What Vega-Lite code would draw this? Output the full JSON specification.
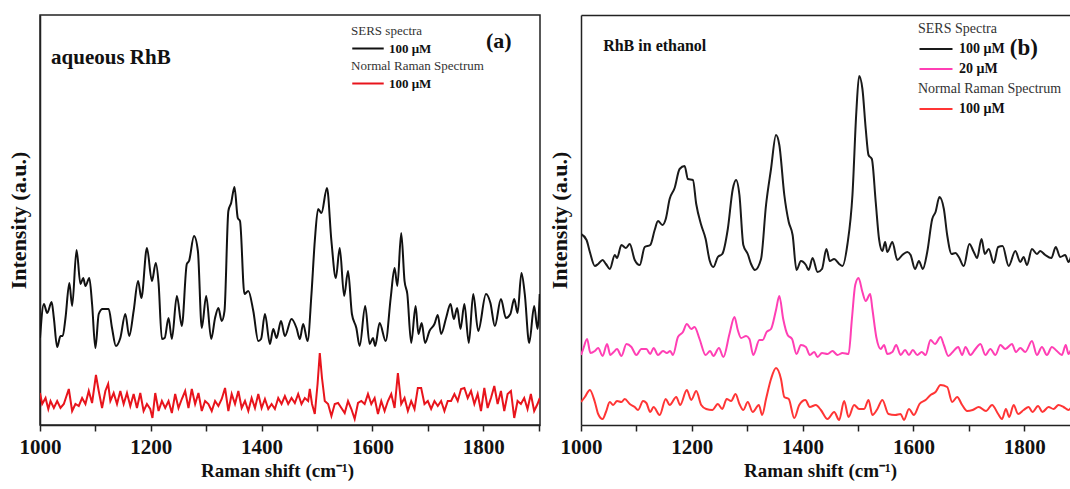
{
"$schema": "https://vega.github.io/schema/vega-lite/v6.json",
"padding": {"left": 6, "top": 14, "right": 0, "bottom": 0},
"background": "white",
"spacing": 7,
"config": {
 "font": "Liberation Serif",
 "view": {"stroke": "#222", "strokeWidth": 1.5},
 "axis": {"grid": false, "domainColor": "#222", "domainWidth": 1.5, "tickColor": "#222", "tickWidth": 1.5, "labelFont": "Liberation Serif", "labelFontWeight": "bold", "labelFontSize": 21, "labelColor": "#111", "titleFont": "Liberation Serif", "titleFontWeight": "bold", "titleFontSize": 21, "titleColor": "#111"},
 "axisY": {"ticks": false, "labels": false, "titlePadding": 10, "titleFontSize": 22},
 "axisX": {"tickSize": 6, "labelPadding": 5, "titlePadding": 4, "titleFontSize": 19, "format": "d", "labelFlush": false, "labelOverlap": false},
 "legend": {"padding": 0, "titleFont": "Liberation Serif", "titleFontWeight": "normal", "titleColor": "#333", "labelFont": "Liberation Serif", "labelFontWeight": "bold", "labelColor": "#111", "symbolStrokeWidth": 2, "symbolType": "M-1,0H5", "titleLimit": 300, "labelLimit": 300}
},
"datasets": {
 "a_sers": [{"shift":1000,"intensity":87},{"shift":1007,"intensity":121},{"shift":1013,"intensity":112},{"shift":1021,"intensity":123},{"shift":1025,"intensity":107},{"shift":1031,"intensity":78},{"shift":1037,"intensity":89},{"shift":1041,"intensity":89},{"shift":1046,"intensity":107},{"shift":1053,"intensity":142},{"shift":1058,"intensity":119},{"shift":1066,"intensity":175},{"shift":1073,"intensity":141},{"shift":1078,"intensity":147},{"shift":1082,"intensity":139},{"shift":1089,"intensity":147},{"shift":1094,"intensity":121},{"shift":1100,"intensity":77},{"shift":1106,"intensity":111},{"shift":1113,"intensity":116},{"shift":1124,"intensity":116},{"shift":1130,"intensity":97},{"shift":1137,"intensity":79},{"shift":1145,"intensity":87},{"shift":1154,"intensity":111},{"shift":1161,"intensity":89},{"shift":1169,"intensity":114},{"shift":1177,"intensity":144},{"shift":1183,"intensity":127},{"shift":1193,"intensity":177},{"shift":1202,"intensity":144},{"shift":1209,"intensity":162},{"shift":1214,"intensity":142},{"shift":1220,"intensity":86},{"shift":1225,"intensity":87},{"shift":1232,"intensity":107},{"shift":1238,"intensity":86},{"shift":1247,"intensity":129},{"shift":1256,"intensity":99},{"shift":1265,"intensity":161},{"shift":1269,"intensity":164},{"shift":1278,"intensity":189},{"shift":1285,"intensity":174},{"shift":1292,"intensity":97},{"shift":1300,"intensity":129},{"shift":1309,"intensity":86},{"shift":1316,"intensity":107},{"shift":1322,"intensity":117},{"shift":1328,"intensity":104},{"shift":1333,"intensity":114},{"shift":1340,"intensity":214},{"shift":1345,"intensity":222},{"shift":1351,"intensity":238},{"shift":1357,"intensity":207},{"shift":1361,"intensity":204},{"shift":1369,"intensity":131},{"shift":1376,"intensity":134},{"shift":1385,"intensity":114},{"shift":1394,"intensity":84},{"shift":1399,"intensity":86},{"shift":1406,"intensity":111},{"shift":1415,"intensity":81},{"shift":1421,"intensity":96},{"shift":1427,"intensity":87},{"shift":1435,"intensity":104},{"shift":1442,"intensity":89},{"shift":1454,"intensity":106},{"shift":1463,"intensity":97},{"shift":1469,"intensity":86},{"shift":1475,"intensity":101},{"shift":1483,"intensity":84},{"shift":1490,"intensity":131},{"shift":1496,"intensity":184},{"shift":1502,"intensity":216},{"shift":1508,"intensity":212},{"shift":1518,"intensity":237},{"shift":1526,"intensity":184},{"shift":1534,"intensity":147},{"shift":1541,"intensity":177},{"shift":1549,"intensity":129},{"shift":1556,"intensity":154},{"shift":1563,"intensity":111},{"shift":1571,"intensity":97},{"shift":1577,"intensity":79},{"shift":1587,"intensity":119},{"shift":1595,"intensity":81},{"shift":1601,"intensity":87},{"shift":1605,"intensity":79},{"shift":1613,"intensity":102},{"shift":1624,"intensity":84},{"shift":1633,"intensity":127},{"shift":1640,"intensity":157},{"shift":1645,"intensity":139},{"shift":1652,"intensity":192},{"shift":1658,"intensity":144},{"shift":1663,"intensity":131},{"shift":1670,"intensity":82},{"shift":1678,"intensity":119},{"shift":1683,"intensity":91},{"shift":1689,"intensity":102},{"shift":1695,"intensity":82},{"shift":1703,"intensity":94},{"shift":1712,"intensity":101},{"shift":1718,"intensity":110},{"shift":1724,"intensity":91},{"shift":1733,"intensity":107},{"shift":1741,"intensity":121},{"shift":1747,"intensity":106},{"shift":1753,"intensity":117},{"shift":1759,"intensity":96},{"shift":1766,"intensity":121},{"shift":1774,"intensity":82},{"shift":1782,"intensity":131},{"shift":1791,"intensity":94},{"shift":1805,"intensity":131},{"shift":1813,"intensity":122},{"shift":1821,"intensity":99},{"shift":1832,"intensity":126},{"shift":1841,"intensity":107},{"shift":1849,"intensity":111},{"shift":1856,"intensity":126},{"shift":1862,"intensity":112},{"shift":1869,"intensity":152},{"shift":1875,"intensity":131},{"shift":1883,"intensity":82},{"shift":1892,"intensity":119},{"shift":1898,"intensity":96},{"shift":1902,"intensity":131}],
 "a_normal": [{"shift":1000,"intensity":32},{"shift":1004,"intensity":21},{"shift":1010,"intensity":27},{"shift":1015,"intensity":16},{"shift":1019,"intensity":24},{"shift":1025,"intensity":17},{"shift":1031,"intensity":24},{"shift":1037,"intensity":17},{"shift":1043,"intensity":21},{"shift":1052,"intensity":36},{"shift":1058,"intensity":14},{"shift":1064,"intensity":21},{"shift":1070,"intensity":19},{"shift":1076,"intensity":27},{"shift":1082,"intensity":21},{"shift":1088,"intensity":34},{"shift":1094,"intensity":22},{"shift":1101,"intensity":50},{"shift":1106,"intensity":34},{"shift":1112,"intensity":17},{"shift":1118,"intensity":34},{"shift":1123,"intensity":41},{"shift":1127,"intensity":24},{"shift":1133,"intensity":32},{"shift":1139,"intensity":21},{"shift":1145,"intensity":34},{"shift":1151,"intensity":21},{"shift":1157,"intensity":32},{"shift":1163,"intensity":19},{"shift":1169,"intensity":31},{"shift":1175,"intensity":17},{"shift":1181,"intensity":32},{"shift":1187,"intensity":14},{"shift":1193,"intensity":21},{"shift":1199,"intensity":16},{"shift":1203,"intensity":7},{"shift":1208,"intensity":32},{"shift":1214,"intensity":14},{"shift":1220,"intensity":24},{"shift":1226,"intensity":17},{"shift":1232,"intensity":24},{"shift":1238,"intensity":12},{"shift":1244,"intensity":31},{"shift":1250,"intensity":17},{"shift":1256,"intensity":26},{"shift":1262,"intensity":34},{"shift":1268,"intensity":17},{"shift":1274,"intensity":36},{"shift":1280,"intensity":21},{"shift":1286,"intensity":32},{"shift":1292,"intensity":14},{"shift":1298,"intensity":24},{"shift":1304,"intensity":21},{"shift":1310,"intensity":14},{"shift":1316,"intensity":24},{"shift":1322,"intensity":19},{"shift":1328,"intensity":26},{"shift":1334,"intensity":37},{"shift":1340,"intensity":14},{"shift":1346,"intensity":31},{"shift":1352,"intensity":21},{"shift":1358,"intensity":34},{"shift":1364,"intensity":17},{"shift":1370,"intensity":24},{"shift":1376,"intensity":14},{"shift":1382,"intensity":27},{"shift":1388,"intensity":17},{"shift":1394,"intensity":31},{"shift":1400,"intensity":17},{"shift":1406,"intensity":26},{"shift":1412,"intensity":16},{"shift":1418,"intensity":21},{"shift":1424,"intensity":16},{"shift":1430,"intensity":27},{"shift":1436,"intensity":21},{"shift":1442,"intensity":29},{"shift":1448,"intensity":21},{"shift":1454,"intensity":27},{"shift":1460,"intensity":22},{"shift":1466,"intensity":31},{"shift":1472,"intensity":21},{"shift":1478,"intensity":27},{"shift":1484,"intensity":24},{"shift":1487,"intensity":36},{"shift":1491,"intensity":21},{"shift":1496,"intensity":11},{"shift":1501,"intensity":41},{"shift":1505,"intensity":72},{"shift":1509,"intensity":47},{"shift":1514,"intensity":24},{"shift":1520,"intensity":21},{"shift":1526,"intensity":9},{"shift":1532,"intensity":21},{"shift":1538,"intensity":22},{"shift":1544,"intensity":17},{"shift":1550,"intensity":12},{"shift":1556,"intensity":24},{"shift":1562,"intensity":16},{"shift":1568,"intensity":6},{"shift":1574,"intensity":22},{"shift":1580,"intensity":24},{"shift":1586,"intensity":21},{"shift":1592,"intensity":31},{"shift":1598,"intensity":21},{"shift":1604,"intensity":27},{"shift":1610,"intensity":11},{"shift":1616,"intensity":24},{"shift":1622,"intensity":14},{"shift":1628,"intensity":24},{"shift":1634,"intensity":31},{"shift":1640,"intensity":17},{"shift":1646,"intensity":52},{"shift":1652,"intensity":21},{"shift":1658,"intensity":27},{"shift":1664,"intensity":14},{"shift":1670,"intensity":24},{"shift":1676,"intensity":16},{"shift":1682,"intensity":37},{"shift":1688,"intensity":37},{"shift":1694,"intensity":21},{"shift":1700,"intensity":24},{"shift":1706,"intensity":16},{"shift":1712,"intensity":24},{"shift":1718,"intensity":19},{"shift":1724,"intensity":24},{"shift":1730,"intensity":14},{"shift":1736,"intensity":24},{"shift":1742,"intensity":24},{"shift":1748,"intensity":31},{"shift":1754,"intensity":24},{"shift":1760,"intensity":36},{"shift":1766,"intensity":37},{"shift":1772,"intensity":27},{"shift":1778,"intensity":34},{"shift":1784,"intensity":21},{"shift":1790,"intensity":31},{"shift":1796,"intensity":14},{"shift":1802,"intensity":37},{"shift":1808,"intensity":17},{"shift":1814,"intensity":27},{"shift":1820,"intensity":39},{"shift":1826,"intensity":21},{"shift":1832,"intensity":34},{"shift":1838,"intensity":14},{"shift":1844,"intensity":31},{"shift":1850,"intensity":34},{"shift":1856,"intensity":7},{"shift":1862,"intensity":24},{"shift":1868,"intensity":21},{"shift":1874,"intensity":27},{"shift":1880,"intensity":16},{"shift":1886,"intensity":31},{"shift":1892,"intensity":14},{"shift":1898,"intensity":21},{"shift":1902,"intensity":27}],
 "b_sers100": [{"shift":1000,"intensity":191},{"shift":1010,"intensity":185},{"shift":1016,"intensity":173},{"shift":1025,"intensity":159},{"shift":1031,"intensity":161},{"shift":1039,"intensity":165},{"shift":1045,"intensity":161},{"shift":1052,"intensity":156},{"shift":1061,"intensity":170},{"shift":1065,"intensity":167},{"shift":1073,"intensity":180},{"shift":1081,"intensity":177},{"shift":1088,"intensity":181},{"shift":1097,"intensity":165},{"shift":1106,"intensity":160},{"shift":1115,"intensity":178},{"shift":1125,"intensity":180},{"shift":1133,"intensity":195},{"shift":1139,"intensity":204},{"shift":1147,"intensity":200},{"shift":1153,"intensity":206},{"shift":1160,"intensity":226},{"shift":1169,"intensity":237},{"shift":1178,"intensity":256},{"shift":1187,"intensity":259},{"shift":1193,"intensity":246},{"shift":1202,"intensity":245},{"shift":1208,"intensity":221},{"shift":1217,"intensity":200},{"shift":1225,"intensity":186},{"shift":1232,"intensity":165},{"shift":1239,"intensity":158},{"shift":1247,"intensity":168},{"shift":1255,"intensity":171},{"shift":1265,"intensity":196},{"shift":1274,"intensity":236},{"shift":1280,"intensity":245},{"shift":1286,"intensity":230},{"shift":1293,"intensity":180},{"shift":1301,"intensity":171},{"shift":1307,"intensity":161},{"shift":1314,"intensity":155},{"shift":1325,"intensity":166},{"shift":1334,"intensity":220},{"shift":1343,"intensity":256},{"shift":1352,"intensity":290},{"shift":1358,"intensity":280},{"shift":1367,"intensity":230},{"shift":1375,"intensity":203},{"shift":1382,"intensity":190},{"shift":1389,"intensity":155},{"shift":1397,"intensity":164},{"shift":1406,"intensity":160},{"shift":1411,"intensity":155},{"shift":1418,"intensity":167},{"shift":1427,"intensity":153},{"shift":1435,"intensity":156},{"shift":1443,"intensity":176},{"shift":1449,"intensity":164},{"shift":1457,"intensity":166},{"shift":1466,"intensity":161},{"shift":1472,"intensity":159},{"shift":1481,"intensity":181},{"shift":1490,"intensity":230},{"shift":1497,"intensity":313},{"shift":1502,"intensity":349},{"shift":1508,"intensity":336},{"shift":1514,"intensity":296},{"shift":1519,"intensity":270},{"shift":1525,"intensity":266},{"shift":1532,"intensity":223},{"shift":1538,"intensity":186},{"shift":1544,"intensity":174},{"shift":1549,"intensity":183},{"shift":1553,"intensity":173},{"shift":1562,"intensity":183},{"shift":1571,"intensity":165},{"shift":1580,"intensity":170},{"shift":1589,"intensity":173},{"shift":1595,"intensity":170},{"shift":1603,"intensity":156},{"shift":1610,"intensity":164},{"shift":1617,"intensity":156},{"shift":1625,"intensity":173},{"shift":1634,"intensity":206},{"shift":1640,"intensity":213},{"shift":1647,"intensity":228},{"shift":1655,"intensity":216},{"shift":1661,"intensity":190},{"shift":1669,"intensity":171},{"shift":1676,"intensity":172},{"shift":1682,"intensity":168},{"shift":1691,"intensity":159},{"shift":1701,"intensity":181},{"shift":1709,"intensity":173},{"shift":1715,"intensity":167},{"shift":1723,"intensity":186},{"shift":1729,"intensity":171},{"shift":1736,"intensity":176},{"shift":1745,"intensity":162},{"shift":1753,"intensity":178},{"shift":1761,"intensity":179},{"shift":1772,"intensity":159},{"shift":1784,"intensity":174},{"shift":1793,"intensity":163},{"shift":1799,"intensity":168},{"shift":1805,"intensity":160},{"shift":1814,"intensity":176},{"shift":1823,"intensity":171},{"shift":1829,"intensity":174},{"shift":1838,"intensity":170},{"shift":1849,"intensity":167},{"shift":1857,"intensity":178},{"shift":1865,"intensity":168},{"shift":1874,"intensity":170},{"shift":1880,"intensity":163},{"shift":1888,"intensity":172},{"shift":1895,"intensity":166}],
 "b_sers20": [{"shift":1000,"intensity":70},{"shift":1004,"intensity":76},{"shift":1011,"intensity":86},{"shift":1017,"intensity":72},{"shift":1025,"intensity":74},{"shift":1031,"intensity":77},{"shift":1039,"intensity":69},{"shift":1047,"intensity":81},{"shift":1053,"intensity":70},{"shift":1059,"intensity":73},{"shift":1065,"intensity":76},{"shift":1073,"intensity":69},{"shift":1082,"intensity":81},{"shift":1091,"intensity":78},{"shift":1100,"intensity":70},{"shift":1109,"intensity":76},{"shift":1118,"intensity":76},{"shift":1125,"intensity":71},{"shift":1131,"intensity":77},{"shift":1139,"intensity":70},{"shift":1148,"intensity":74},{"shift":1155,"intensity":72},{"shift":1161,"intensity":74},{"shift":1166,"intensity":70},{"shift":1175,"intensity":88},{"shift":1184,"intensity":93},{"shift":1191,"intensity":101},{"shift":1199,"intensity":96},{"shift":1205,"intensity":98},{"shift":1214,"intensity":86},{"shift":1225,"intensity":70},{"shift":1233,"intensity":74},{"shift":1239,"intensity":69},{"shift":1249,"intensity":77},{"shift":1257,"intensity":68},{"shift":1268,"intensity":91},{"shift":1277,"intensity":108},{"shift":1283,"intensity":95},{"shift":1289,"intensity":87},{"shift":1298,"intensity":89},{"shift":1304,"intensity":86},{"shift":1311,"intensity":70},{"shift":1322,"intensity":85},{"shift":1328,"intensity":85},{"shift":1335,"intensity":93},{"shift":1343,"intensity":96},{"shift":1352,"intensity":115},{"shift":1358,"intensity":129},{"shift":1365,"intensity":106},{"shift":1373,"intensity":90},{"shift":1381,"intensity":86},{"shift":1389,"intensity":71},{"shift":1397,"intensity":80},{"shift":1406,"intensity":78},{"shift":1413,"intensity":70},{"shift":1421,"intensity":73},{"shift":1427,"intensity":68},{"shift":1435,"intensity":72},{"shift":1445,"intensity":71},{"shift":1454,"intensity":74},{"shift":1463,"intensity":70},{"shift":1472,"intensity":72},{"shift":1483,"intensity":71},{"shift":1489,"intensity":106},{"shift":1495,"intensity":140},{"shift":1501,"intensity":147},{"shift":1508,"intensity":133},{"shift":1514,"intensity":124},{"shift":1522,"intensity":131},{"shift":1526,"intensity":116},{"shift":1533,"intensity":88},{"shift":1541,"intensity":76},{"shift":1547,"intensity":80},{"shift":1553,"intensity":71},{"shift":1562,"intensity":73},{"shift":1569,"intensity":80},{"shift":1577,"intensity":70},{"shift":1585,"intensity":75},{"shift":1592,"intensity":70},{"shift":1599,"intensity":75},{"shift":1607,"intensity":70},{"shift":1615,"intensity":73},{"shift":1622,"intensity":70},{"shift":1631,"intensity":85},{"shift":1639,"intensity":81},{"shift":1649,"intensity":88},{"shift":1655,"intensity":80},{"shift":1663,"intensity":69},{"shift":1671,"intensity":73},{"shift":1681,"intensity":78},{"shift":1688,"intensity":70},{"shift":1694,"intensity":78},{"shift":1703,"intensity":70},{"shift":1712,"intensity":76},{"shift":1721,"intensity":81},{"shift":1730,"intensity":70},{"shift":1739,"intensity":76},{"shift":1748,"intensity":70},{"shift":1757,"intensity":80},{"shift":1766,"intensity":76},{"shift":1778,"intensity":81},{"shift":1785,"intensity":73},{"shift":1793,"intensity":77},{"shift":1802,"intensity":73},{"shift":1814,"intensity":84},{"shift":1823,"intensity":70},{"shift":1832,"intensity":78},{"shift":1841,"intensity":70},{"shift":1850,"intensity":78},{"shift":1859,"intensity":74},{"shift":1868,"intensity":70},{"shift":1875,"intensity":80},{"shift":1880,"intensity":71},{"shift":1888,"intensity":78},{"shift":1895,"intensity":72}],
 "b_normal": [{"shift":1000,"intensity":23},{"shift":1007,"intensity":28},{"shift":1016,"intensity":35},{"shift":1025,"intensity":23},{"shift":1031,"intensity":11},{"shift":1039,"intensity":6},{"shift":1045,"intensity":13},{"shift":1052,"intensity":23},{"shift":1058,"intensity":20},{"shift":1065,"intensity":24},{"shift":1073,"intensity":23},{"shift":1079,"intensity":26},{"shift":1088,"intensity":21},{"shift":1097,"intensity":18},{"shift":1103,"intensity":15},{"shift":1112,"intensity":24},{"shift":1118,"intensity":22},{"shift":1125,"intensity":13},{"shift":1131,"intensity":18},{"shift":1142,"intensity":10},{"shift":1153,"intensity":26},{"shift":1160,"intensity":20},{"shift":1172,"intensity":28},{"shift":1179,"intensity":20},{"shift":1191,"intensity":35},{"shift":1199,"intensity":25},{"shift":1208,"intensity":34},{"shift":1217,"intensity":20},{"shift":1226,"intensity":16},{"shift":1237,"intensity":15},{"shift":1247,"intensity":21},{"shift":1255,"intensity":16},{"shift":1263,"intensity":26},{"shift":1271,"intensity":24},{"shift":1279,"intensity":31},{"shift":1286,"intensity":21},{"shift":1293,"intensity":15},{"shift":1301,"intensity":23},{"shift":1310,"intensity":13},{"shift":1321,"intensity":20},{"shift":1327,"intensity":10},{"shift":1334,"intensity":26},{"shift":1343,"intensity":46},{"shift":1352,"intensity":57},{"shift":1361,"intensity":46},{"shift":1367,"intensity":28},{"shift":1375,"intensity":26},{"shift":1385,"intensity":7},{"shift":1394,"intensity":20},{"shift":1405,"intensity":25},{"shift":1413,"intensity":18},{"shift":1424,"intensity":20},{"shift":1433,"intensity":15},{"shift":1445,"intensity":6},{"shift":1457,"intensity":13},{"shift":1466,"intensity":5},{"shift":1475,"intensity":24},{"shift":1483,"intensity":8},{"shift":1493,"intensity":20},{"shift":1502,"intensity":16},{"shift":1511,"intensity":16},{"shift":1519,"intensity":25},{"shift":1526,"intensity":10},{"shift":1535,"intensity":16},{"shift":1544,"intensity":25},{"shift":1555,"intensity":11},{"shift":1567,"intensity":10},{"shift":1577,"intensity":11},{"shift":1583,"intensity":5},{"shift":1592,"intensity":16},{"shift":1601,"intensity":10},{"shift":1611,"intensity":21},{"shift":1622,"intensity":25},{"shift":1631,"intensity":30},{"shift":1640,"intensity":33},{"shift":1649,"intensity":40},{"shift":1661,"intensity":38},{"shift":1670,"intensity":23},{"shift":1679,"intensity":28},{"shift":1688,"intensity":20},{"shift":1697,"intensity":14},{"shift":1707,"intensity":15},{"shift":1718,"intensity":18},{"shift":1731,"intensity":14},{"shift":1742,"intensity":20},{"shift":1753,"intensity":11},{"shift":1760,"intensity":6},{"shift":1767,"intensity":16},{"shift":1773,"intensity":8},{"shift":1781,"intensity":20},{"shift":1789,"intensity":11},{"shift":1799,"intensity":15},{"shift":1808,"intensity":18},{"shift":1815,"intensity":13},{"shift":1825,"intensity":19},{"shift":1833,"intensity":13},{"shift":1844,"intensity":18},{"shift":1853,"intensity":16},{"shift":1862,"intensity":20},{"shift":1871,"intensity":18},{"shift":1880,"intensity":15},{"shift":1888,"intensity":19},{"shift":1895,"intensity":16}]
},
"hconcat": [
 {
  "width": 500, "height": 410,
  "layer": [
   {"data": {"name": "a_sers"}, "mark": {"type": "line", "strokeWidth": 2, "clip": true, "interpolate": "monotone"},
    "encoding": {
     "x": {"field": "shift", "type": "quantitative", "scale": {"domain": [1000, 1902.5], "nice": false, "zero": false},
           "axis": {"title": "Raman shift (cm⁻¹)", "values": [1000,1100,1200,1300,1400,1500,1600,1700,1800,1900], "labelExpr": "datum.value % 200 === 0 ? datum.label : ''", "titleX": 237, "titleAlign": "center"}},
     "y": {"field": "intensity", "type": "quantitative", "scale": {"domain": [0, 410], "nice": false}, "axis": {"title": "Intensity (a.u.)"}},
     "color": {"datum": "100 μM", "scale": {"range": ["#111111"]},
               "legend": {"title": "SERS spectra", "orient": "none", "legendX": 311, "legendY": 10, "titleFontSize": 13, "labelFontSize": 13, "symbolSize": 110, "labelOffset": 25, "titlePadding": 4}}
    }},
   {"data": {"name": "a_normal"}, "mark": {"type": "line", "strokeWidth": 2, "clip": true},
    "encoding": {
     "x": {"field": "shift", "type": "quantitative"},
     "y": {"field": "intensity", "type": "quantitative"},
     "color": {"datum": "100 μM", "scale": {"range": ["#e8141c"]},
               "legend": {"title": "Normal Raman Spectrum", "orient": "none", "legendX": 311, "legendY": 45, "titleFontSize": 13, "labelFontSize": 13, "symbolSize": 110, "labelOffset": 25, "titlePadding": 4}}
    }},
   {"data": {"values": [{"label": "aqueous RhB", "shift": 1020, "intensity": 367}]},
    "mark": {"type": "text", "align": "left", "baseline": "middle", "fontSize": 21, "fontWeight": "bold", "font": "Liberation Serif", "color": "#111"},
    "encoding": {"x": {"field": "shift", "type": "quantitative"}, "y": {"field": "intensity", "type": "quantitative"}, "text": {"field": "label"}}},
   {"data": {"values": [{"label": "(a)", "shift": 1805, "intensity": 384}]},
    "mark": {"type": "text", "align": "left", "baseline": "middle", "fontSize": 22, "fontWeight": "bold", "font": "Liberation Serif", "color": "#111"},
    "encoding": {"x": {"field": "shift", "type": "quantitative"}, "y": {"field": "intensity", "type": "quantitative"}, "text": {"field": "label"}}}
  ],
  "resolve": {"scale": {"color": "independent"}}
 },
 {
  "width": 489, "height": 410,
  "view": {"stroke": null},
  "layer": [
   {"layer": [
     {"data": {"name": "b_sers100"}, "mark": {"type": "line", "strokeWidth": 2, "clip": true, "interpolate": "monotone"},
      "encoding": {
       "x": {"field": "shift", "type": "quantitative", "scale": {"domain": [1000, 1882.7], "nice": false, "zero": false},
             "axis": {"title": "Raman shift (cm⁻¹)", "values": [1000,1100,1200,1300,1400,1500,1600,1700,1800], "labelExpr": "datum.value % 200 === 0 ? datum.label : ''", "titleX": 239, "titleAlign": "center"}},
       "y": {"field": "intensity", "type": "quantitative", "scale": {"domain": [0, 410], "nice": false}, "axis": {"title": "Intensity (a.u.)"}},
       "color": {"datum": "100 μM", "scale": {"domain": ["100 μM", "20 μM"], "range": ["#1a1a1a", "#ff3fb4"]},
                 "legend": {"title": "SERS Spectra", "orient": "none", "legendX": 337, "legendY": 7, "titleFontSize": 14, "labelFontSize": 14, "symbolSize": 121, "labelOffset": 27, "titlePadding": 6, "rowPadding": 6}}
      }},
     {"data": {"name": "b_sers20"}, "mark": {"type": "line", "strokeWidth": 2, "clip": true, "interpolate": "monotone"},
      "encoding": {
       "x": {"field": "shift", "type": "quantitative"},
       "y": {"field": "intensity", "type": "quantitative"},
       "color": {"datum": "20 μM", "scale": {"domain": ["100 μM", "20 μM"], "range": ["#1a1a1a", "#ff3fb4"]}}
      }}
   ]},
   {"data": {"name": "b_normal"}, "mark": {"type": "line", "strokeWidth": 2, "clip": true, "interpolate": "monotone"},
    "encoding": {
     "x": {"field": "shift", "type": "quantitative", "axis": {"orient": "top", "labels": false, "ticks": false, "title": null, "domain": true}},
     "y": {"field": "intensity", "type": "quantitative"},
     "color": {"datum": "100 μM", "scale": {"range": ["#ff3535"]},
               "legend": {"title": "Normal Raman Spectrum", "orient": "none", "legendX": 337, "legendY": 67, "titleFontSize": 14, "labelFontSize": 14, "symbolSize": 121, "labelOffset": 27, "titlePadding": 6}}
    }},
   {"data": {"values": [{"label": "RhB in ethanol", "shift": 1040, "intensity": 379}]},
    "mark": {"type": "text", "align": "left", "baseline": "middle", "fontSize": 16, "fontWeight": "bold", "font": "Liberation Serif", "color": "#111"},
    "encoding": {"x": {"field": "shift", "type": "quantitative", "axis": null}, "y": {"field": "intensity", "type": "quantitative"}, "text": {"field": "label"}}},
   {"data": {"values": [{"label": "(b)", "shift": 1774, "intensity": 377}]},
    "mark": {"type": "text", "align": "left", "baseline": "middle", "fontSize": 23, "fontWeight": "bold", "font": "Liberation Serif", "color": "#111"},
    "encoding": {"x": {"field": "shift", "type": "quantitative", "axis": null}, "y": {"field": "intensity", "type": "quantitative"}, "text": {"field": "label"}}}
  ],
  "resolve": {"scale": {"color": "independent"}, "axis": {"x": "independent"}}
 }
]
}
